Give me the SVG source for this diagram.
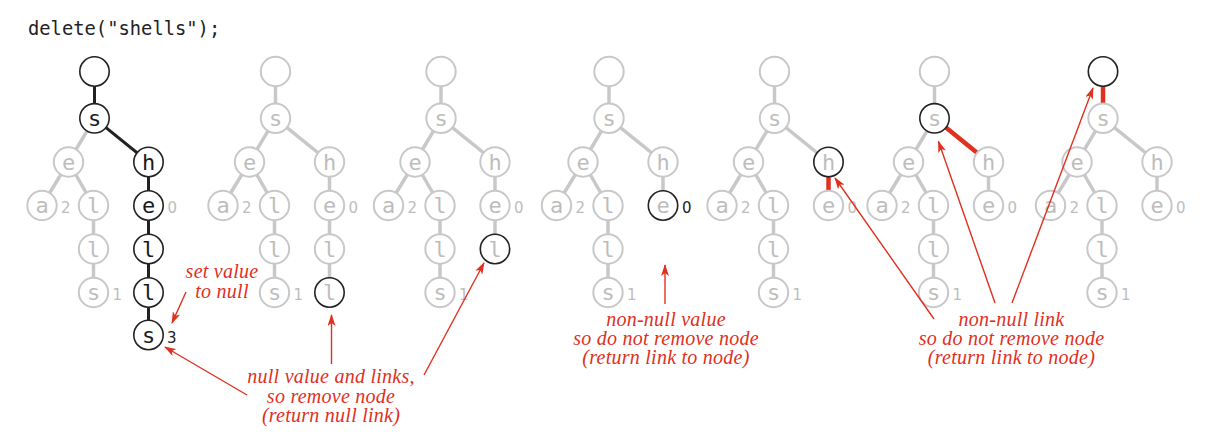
<svg xmlns="http://www.w3.org/2000/svg" width="1209" height="439" viewBox="0 0 1209 439">
<style>
.n circle{fill:#fff;stroke:#c8c8c8;stroke-width:2}
.n.b circle{stroke:#222;stroke-width:1.6}
.n text{font-family:"DejaVu Sans Mono",monospace;font-size:22px;text-anchor:middle;fill:#bdbdbd}
.n.k text{fill:#1a1a1a}
.v{font-family:"DejaVu Sans",sans-serif;font-size:15px;fill:#bdbdbd}
.vk{fill:#222}
.eg{stroke:#c8c8c8;stroke-width:3.5;fill:none}
.eb{stroke:#222;stroke-width:3;fill:none}
.er{stroke:#e0301e;stroke-width:4.5;fill:none}
.ar{stroke:#e0301e;stroke-width:1.4;fill:none;marker-end:url(#ah)}
.note{font-family:"Liberation Serif",serif;font-style:italic;font-size:20px;letter-spacing:0.25px;fill:#e0301e;text-anchor:middle}
.code{font-family:"DejaVu Sans Mono",monospace;font-size:18.8px;fill:#222}
</style>
<defs>
<marker id="ah" markerWidth="12" markerHeight="8" refX="11" refY="4" orient="auto" markerUnits="userSpaceOnUse">
<path d="M0,0 L12,4 L0,8 L3,4 Z" fill="#e0301e"/>
</marker>
</defs>
<rect width="1209" height="439" fill="#fff"/>
<text class="code" x="28" y="35">delete("shells");</text>

<g id="edges">
<!-- tree 1 -->
<line class="eb" x1="94.5" y1="71.5" x2="94.5" y2="118.3"/>
<line class="eg" x1="94.5" y1="118.3" x2="68.5" y2="162"/>
<line class="eb" x1="94.5" y1="118.3" x2="148.5" y2="162"/>
<line class="eg" x1="68.5" y1="162" x2="42" y2="205.5"/>
<line class="eg" x1="68.5" y1="162" x2="93.5" y2="205.5"/>
<line class="eg" x1="93.5" y1="205.5" x2="93.5" y2="292.5"/>
<line class="eb" x1="148.5" y1="162" x2="148.5" y2="335"/>
<!-- tree 2 -->
<line class="eg" x1="275.5" y1="71.5" x2="275.5" y2="118.3"/>
<line class="eg" x1="275.5" y1="118.3" x2="249.5" y2="162"/>
<line class="eg" x1="275.5" y1="118.3" x2="329.5" y2="162"/>
<line class="eg" x1="249.5" y1="162" x2="223" y2="205.5"/>
<line class="eg" x1="249.5" y1="162" x2="274.5" y2="205.5"/>
<line class="eg" x1="274.5" y1="205.5" x2="274.5" y2="292.5"/>
<line class="eg" x1="329.5" y1="162" x2="329.5" y2="292.5"/>
<!-- tree 3 -->
<line class="eg" x1="441" y1="71.5" x2="441" y2="118.3"/>
<line class="eg" x1="441" y1="118.3" x2="415" y2="162"/>
<line class="eg" x1="441" y1="118.3" x2="495" y2="162"/>
<line class="eg" x1="415" y1="162" x2="388.5" y2="205.5"/>
<line class="eg" x1="415" y1="162" x2="440" y2="205.5"/>
<line class="eg" x1="440" y1="205.5" x2="440" y2="292.5"/>
<line class="eg" x1="495" y1="162" x2="495" y2="249"/>
<!-- tree 4 -->
<line class="eg" x1="609" y1="71.5" x2="609" y2="118.3"/>
<line class="eg" x1="609" y1="118.3" x2="583" y2="162"/>
<line class="eg" x1="609" y1="118.3" x2="663" y2="162"/>
<line class="eg" x1="583" y1="162" x2="556.5" y2="205.5"/>
<line class="eg" x1="583" y1="162" x2="608" y2="205.5"/>
<line class="eg" x1="608" y1="205.5" x2="608" y2="292.5"/>
<line class="eg" x1="663" y1="162" x2="663" y2="205.5"/>
<!-- tree 5 -->
<line class="eg" x1="774.5" y1="71.5" x2="774.5" y2="118.3"/>
<line class="eg" x1="774.5" y1="118.3" x2="748.5" y2="162"/>
<line class="eg" x1="774.5" y1="118.3" x2="828.5" y2="162"/>
<line class="eg" x1="748.5" y1="162" x2="722" y2="205.5"/>
<line class="eg" x1="748.5" y1="162" x2="773.5" y2="205.5"/>
<line class="eg" x1="773.5" y1="205.5" x2="773.5" y2="292.5"/>
<line class="er" x1="828.5" y1="162" x2="828.5" y2="205.5"/>
<!-- tree 6 -->
<line class="eg" x1="934.5" y1="71.5" x2="934.5" y2="118.3"/>
<line class="eg" x1="934.5" y1="118.3" x2="908.5" y2="162"/>
<line class="er" x1="934.5" y1="118.3" x2="988.5" y2="162"/>
<line class="eg" x1="908.5" y1="162" x2="882" y2="205.5"/>
<line class="eg" x1="908.5" y1="162" x2="933.5" y2="205.5"/>
<line class="eg" x1="933.5" y1="205.5" x2="933.5" y2="292.5"/>
<line class="eg" x1="988.5" y1="162" x2="988.5" y2="205.5"/>
<!-- tree 7 -->
<line class="er" x1="1103" y1="71.5" x2="1103" y2="118.3"/>
<line class="eg" x1="1103" y1="118.3" x2="1077" y2="162"/>
<line class="eg" x1="1103" y1="118.3" x2="1157" y2="162"/>
<line class="eg" x1="1077" y1="162" x2="1050.5" y2="205.5"/>
<line class="eg" x1="1077" y1="162" x2="1102" y2="205.5"/>
<line class="eg" x1="1102" y1="205.5" x2="1102" y2="292.5"/>
<line class="eg" x1="1157" y1="162" x2="1157" y2="205.5"/>
</g>

<!-- tree 1 nodes -->
<g id="t1-root" class="n b"><circle cx="94.5" cy="71.5" r="14.7"/></g>
<g id="t1-s" class="n b k"><circle cx="94.5" cy="118.3" r="14.7"/><text x="94.5" y="125.8">s</text></g>
<g id="t1-e" class="n"><circle cx="68.5" cy="162" r="14.7"/><text x="68.5" y="169.5">e</text></g>
<g id="t1-h" class="n b k"><circle cx="148.5" cy="162" r="14.7"/><text x="148.5" y="169.5">h</text></g>
<g id="t1-a" class="n"><circle cx="42" cy="205.5" r="14.7"/><text x="42" y="213">a</text></g>
<g id="t1-l1" class="n"><circle cx="93.5" cy="205.5" r="14.7"/><text x="93.5" y="213">l</text></g>
<g id="t1-e2" class="n b k"><circle cx="148.5" cy="205.5" r="14.7"/><text x="148.5" y="213">e</text></g>
<g id="t1-l2" class="n"><circle cx="93.5" cy="249" r="14.7"/><text x="93.5" y="256.5">l</text></g>
<g id="t1-s2" class="n"><circle cx="93.5" cy="292.5" r="14.7"/><text x="93.5" y="300">s</text></g>
<g id="t1-l3" class="n b k"><circle cx="148.5" cy="249" r="14.7"/><text x="148.5" y="256.5">l</text></g>
<g id="t1-l4" class="n b k"><circle cx="148.5" cy="292.5" r="14.7"/><text x="148.5" y="300">l</text></g>
<g id="t1-s3" class="n b k"><circle cx="148.5" cy="335" r="14.7"/><text x="148.5" y="342.5">s</text></g>
<text class="v" x="61" y="213">2</text>
<text class="v" x="167.5" y="213">0</text>
<text class="v" x="112.5" y="300">1</text>
<text class="v vk" x="167" y="342.5">3</text>

<!-- tree 2 nodes -->
<g id="t2-root" class="n"><circle cx="275.5" cy="71.5" r="14.7"/></g>
<g id="t2-s" class="n"><circle cx="275.5" cy="118.3" r="14.7"/><text x="275.5" y="125.8">s</text></g>
<g id="t2-e" class="n"><circle cx="249.5" cy="162" r="14.7"/><text x="249.5" y="169.5">e</text></g>
<g id="t2-h" class="n"><circle cx="329.5" cy="162" r="14.7"/><text x="329.5" y="169.5">h</text></g>
<g id="t2-a" class="n"><circle cx="223" cy="205.5" r="14.7"/><text x="223" y="213">a</text></g>
<g id="t2-l1" class="n"><circle cx="274.5" cy="205.5" r="14.7"/><text x="274.5" y="213">l</text></g>
<g id="t2-e2" class="n"><circle cx="329.5" cy="205.5" r="14.7"/><text x="329.5" y="213">e</text></g>
<g id="t2-l2" class="n"><circle cx="274.5" cy="249" r="14.7"/><text x="274.5" y="256.5">l</text></g>
<g id="t2-s2" class="n"><circle cx="274.5" cy="292.5" r="14.7"/><text x="274.5" y="300">s</text></g>
<g id="t2-l3" class="n"><circle cx="329.5" cy="249" r="14.7"/><text x="329.5" y="256.5">l</text></g>
<g id="t2-l4" class="n b"><circle cx="329.5" cy="292.5" r="14.7"/><text x="329.5" y="300">l</text></g>
<text class="v" x="242" y="213">2</text>
<text class="v" x="348.5" y="213">0</text>
<text class="v" x="293.5" y="300">1</text>

<!-- tree 3 nodes -->
<g id="t3-root" class="n"><circle cx="441" cy="71.5" r="14.7"/></g>
<g id="t3-s" class="n"><circle cx="441" cy="118.3" r="14.7"/><text x="441" y="125.8">s</text></g>
<g id="t3-e" class="n"><circle cx="415" cy="162" r="14.7"/><text x="415" y="169.5">e</text></g>
<g id="t3-h" class="n"><circle cx="495" cy="162" r="14.7"/><text x="495" y="169.5">h</text></g>
<g id="t3-a" class="n"><circle cx="388.5" cy="205.5" r="14.7"/><text x="388.5" y="213">a</text></g>
<g id="t3-l1" class="n"><circle cx="440" cy="205.5" r="14.7"/><text x="440" y="213">l</text></g>
<g id="t3-e2" class="n"><circle cx="495" cy="205.5" r="14.7"/><text x="495" y="213">e</text></g>
<g id="t3-l2" class="n"><circle cx="440" cy="249" r="14.7"/><text x="440" y="256.5">l</text></g>
<g id="t3-s2" class="n"><circle cx="440" cy="292.5" r="14.7"/><text x="440" y="300">s</text></g>
<g id="t3-l3" class="n b"><circle cx="495" cy="249" r="14.7"/><text x="495" y="256.5">l</text></g>
<text class="v" x="407.5" y="213">2</text>
<text class="v" x="514" y="213">0</text>
<text class="v" x="459" y="300">1</text>

<!-- tree 4 nodes -->
<g id="t4-root" class="n"><circle cx="609" cy="71.5" r="14.7"/></g>
<g id="t4-s" class="n"><circle cx="609" cy="118.3" r="14.7"/><text x="609" y="125.8">s</text></g>
<g id="t4-e" class="n"><circle cx="583" cy="162" r="14.7"/><text x="583" y="169.5">e</text></g>
<g id="t4-h" class="n"><circle cx="663" cy="162" r="14.7"/><text x="663" y="169.5">h</text></g>
<g id="t4-a" class="n"><circle cx="556.5" cy="205.5" r="14.7"/><text x="556.5" y="213">a</text></g>
<g id="t4-l1" class="n"><circle cx="608" cy="205.5" r="14.7"/><text x="608" y="213">l</text></g>
<g id="t4-e2" class="n b"><circle cx="663" cy="205.5" r="14.7"/><text x="663" y="213">e</text></g>
<g id="t4-l2" class="n"><circle cx="608" cy="249" r="14.7"/><text x="608" y="256.5">l</text></g>
<g id="t4-s2" class="n"><circle cx="608" cy="292.5" r="14.7"/><text x="608" y="300">s</text></g>
<text class="v" x="575.5" y="213">2</text>
<text class="v vk" x="682" y="213">0</text>
<text class="v" x="627" y="300">1</text>

<!-- tree 5 nodes -->
<g id="t5-root" class="n"><circle cx="774.5" cy="71.5" r="14.7"/></g>
<g id="t5-s" class="n"><circle cx="774.5" cy="118.3" r="14.7"/><text x="774.5" y="125.8">s</text></g>
<g id="t5-e" class="n"><circle cx="748.5" cy="162" r="14.7"/><text x="748.5" y="169.5">e</text></g>
<g id="t5-h" class="n b"><circle cx="828.5" cy="162" r="14.7"/><text x="828.5" y="169.5">h</text></g>
<g id="t5-a" class="n"><circle cx="722" cy="205.5" r="14.7"/><text x="722" y="213">a</text></g>
<g id="t5-l1" class="n"><circle cx="773.5" cy="205.5" r="14.7"/><text x="773.5" y="213">l</text></g>
<g id="t5-e2" class="n"><circle cx="828.5" cy="205.5" r="14.7"/><text x="828.5" y="213">e</text></g>
<g id="t5-l2" class="n"><circle cx="773.5" cy="249" r="14.7"/><text x="773.5" y="256.5">l</text></g>
<g id="t5-s2" class="n"><circle cx="773.5" cy="292.5" r="14.7"/><text x="773.5" y="300">s</text></g>
<text class="v" x="741" y="213">2</text>
<text class="v" x="847.5" y="213">0</text>
<text class="v" x="792.5" y="300">1</text>

<!-- tree 6 nodes -->
<g id="t6-root" class="n"><circle cx="934.5" cy="71.5" r="14.7"/></g>
<g id="t6-s" class="n b"><circle cx="934.5" cy="118.3" r="14.7"/><text x="934.5" y="125.8">s</text></g>
<g id="t6-e" class="n"><circle cx="908.5" cy="162" r="14.7"/><text x="908.5" y="169.5">e</text></g>
<g id="t6-h" class="n"><circle cx="988.5" cy="162" r="14.7"/><text x="988.5" y="169.5">h</text></g>
<g id="t6-a" class="n"><circle cx="882" cy="205.5" r="14.7"/><text x="882" y="213">a</text></g>
<g id="t6-l1" class="n"><circle cx="933.5" cy="205.5" r="14.7"/><text x="933.5" y="213">l</text></g>
<g id="t6-e2" class="n"><circle cx="988.5" cy="205.5" r="14.7"/><text x="988.5" y="213">e</text></g>
<g id="t6-l2" class="n"><circle cx="933.5" cy="249" r="14.7"/><text x="933.5" y="256.5">l</text></g>
<g id="t6-s2" class="n"><circle cx="933.5" cy="292.5" r="14.7"/><text x="933.5" y="300">s</text></g>
<text class="v" x="901" y="213">2</text>
<text class="v" x="1007.5" y="213">0</text>
<text class="v" x="952.5" y="300">1</text>

<!-- tree 7 nodes -->
<g id="t7-root" class="n b"><circle cx="1103" cy="71.5" r="14.7"/></g>
<g id="t7-s" class="n"><circle cx="1103" cy="118.3" r="14.7"/><text x="1103" y="125.8">s</text></g>
<g id="t7-e" class="n"><circle cx="1077" cy="162" r="14.7"/><text x="1077" y="169.5">e</text></g>
<g id="t7-h" class="n"><circle cx="1157" cy="162" r="14.7"/><text x="1157" y="169.5">h</text></g>
<g id="t7-a" class="n"><circle cx="1050.5" cy="205.5" r="14.7"/><text x="1050.5" y="213">a</text></g>
<g id="t7-l1" class="n"><circle cx="1102" cy="205.5" r="14.7"/><text x="1102" y="213">l</text></g>
<g id="t7-e2" class="n"><circle cx="1157" cy="205.5" r="14.7"/><text x="1157" y="213">e</text></g>
<g id="t7-l2" class="n"><circle cx="1102" cy="249" r="14.7"/><text x="1102" y="256.5">l</text></g>
<g id="t7-s2" class="n"><circle cx="1102" cy="292.5" r="14.7"/><text x="1102" y="300">s</text></g>
<text class="v" x="1069.5" y="213">2</text>
<text class="v" x="1176" y="213">0</text>
<text class="v" x="1121" y="300">1</text>

<g id="annotations">
<line class="ar" x1="186" y1="292" x2="172" y2="323"/>
<line class="ar" x1="247" y1="395" x2="165" y2="347"/>
<line class="ar" x1="331.5" y1="364" x2="331.5" y2="315"/>
<line class="ar" x1="424" y1="375" x2="484" y2="263"/>
<line class="ar" x1="665" y1="304" x2="665" y2="265"/>
<line class="ar" x1="934" y1="319" x2="835" y2="178"/>
<line class="ar" x1="995" y1="303" x2="938.5" y2="141.5"/>
<line class="ar" x1="1012" y1="303" x2="1093" y2="88"/>
<text class="note" x="222" y="278">set value</text>
<text class="note" x="222" y="298">to null</text>
<text class="note" x="331" y="383">null value and links,</text>
<text class="note" x="331" y="403">so remove node</text>
<text class="note" x="331" y="422">(return null link)</text>
<text class="note" x="666" y="326">non-null value</text>
<text class="note" x="666" y="345">so do not remove node</text>
<text class="note" x="666" y="364">(return link to node)</text>
<text class="note" x="1011.5" y="326">non-null link</text>
<text class="note" x="1011.5" y="345">so do not remove node</text>
<text class="note" x="1011.5" y="364">(return link to node)</text>
</g>
</svg>
